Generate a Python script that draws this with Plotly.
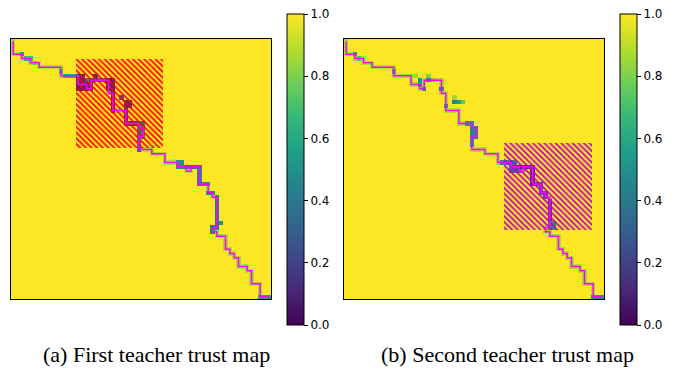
import numpy as np
import plotly.graph_objects as go

N = 60  # grid size (frames x frames)

# shared alignment path (col, row) vertices
PATH_COLS = [0, 0, 2, 2, 4, 4, 6, 6, 11, 11, 15, 15, 17, 17, 18, 18, 22, 22, 23, 23, 26, 26, 29, 29, 30, 30, 29, 29,
             32, 32, 35, 35, 38, 38, 40, 40, 41, 41, 43, 43, 45, 45, 46, 46, 47, 47, 46, 46, 47, 47, 49, 49, 50, 50,
             51, 51, 52, 52, 54, 54, 55, 55, 57, 57, 59]
PATH_ROWS = [0, 3, 3, 4, 4, 5, 5, 6, 6, 8, 8, 10, 10, 11, 11, 9, 9, 12, 12, 16, 16, 19, 19, 20, 20, 22, 22, 25,
             25, 26, 26, 28, 28, 29, 29, 30, 30, 29, 29, 33, 33, 35, 35, 36, 36, 43, 43, 44, 44, 45, 45, 48, 48, 49,
             49, 50, 50, 52, 52, 53, 53, 56, 56, 59, 59]

PATH_TRUST = 0.88  # default trust of cells along the path

# low-trust blocks: (col0, col1, row0, row1, value)
BLOCKS_A = [
    (2, 2, 3, 3, 0.55), (3, 4, 4, 4, 0.68), (5, 5, 5, 5, 0.75), (11, 11, 7, 7, 0.6), (12, 14, 8, 8, 0.6),
    (15, 16, 8, 11, 0.12), (17, 17, 9, 9, 0.5), (17, 18, 10, 11, 0.15), (19, 19, 8, 8, 0.15),
    (18, 19, 9, 9, 0.3), (20, 21, 9, 9, 0.38), (22, 22, 9, 11, 0.12), (23, 23, 9, 16, 0.1),
    (25, 25, 13, 13, 0.3), (26, 27, 14, 15, 0.15), (26, 26, 16, 19, 0.15), (27, 28, 19, 19, 0.15),
    (29, 30, 19, 22, 0.4), (30, 30, 21, 21, 0.5), (29, 29, 23, 25, 0.35),
    (38, 39, 28, 29, 0.5), (40, 42, 29, 29, 0.35), (43, 43, 29, 33, 0.45), (44, 45, 33, 33, 0.5),
    (45, 46, 35, 35, 0.5), (47, 47, 36, 43, 0.4), (48, 48, 42, 42, 0.5), (46, 46, 43, 44, 0.4),
    (57, 59, 59, 59, 0.55),
]
BLOCKS_B = [
    (2, 2, 3, 3, 0.55), (3, 3, 4, 4, 0.7), (11, 11, 7, 7, 0.6), (16, 16, 8, 8, 0.85),
    (17, 17, 9, 10, 0.5), (18, 18, 11, 11, 0.45), (19, 19, 8, 8, 0.8), (19, 19, 9, 9, 0.45),
    (20, 20, 9, 9, 0.8), (21, 22, 9, 9, 0.85), (22, 22, 11, 11, 0.45), (23, 23, 15, 15, 0.5),
    (25, 25, 13, 13, 0.85), (25, 25, 14, 14, 0.45), (26, 26, 14, 14, 0.55), (27, 27, 14, 14, 0.75),
    (28, 29, 19, 19, 0.5), (29, 30, 20, 22, 0.45), (29, 29, 23, 24, 0.5),
    (36, 39, 28, 28, 0.47), (38, 40, 29, 30, 0.35), (40, 42, 29, 29, 0.1), (43, 43, 29, 33, 0.15),
    (44, 45, 33, 33, 0.3), (45, 45, 34, 35, 0.35), (46, 46, 35, 36, 0.3), (47, 47, 37, 41, 0.18),
    (47, 48, 42, 43, 0.5), (57, 59, 59, 59, 0.5),
]

# hatched regions (x0, x1, y0, y1) in grid units
HATCH_A = (14.5, 34.6, 4.1, 24.7)
HATCH_B = (36.5, 56.7, 23.6, 43.6)

CB_TICKS = [0.0, 0.2, 0.4, 0.6, 0.8, 1.0]
CAPTIONS = ["(a) First teacher trust map", "(b) Second teacher trust map"]


def path_cells(cols, rows):
    cells = [(cols[0], rows[0])]
    for i in range(1, len(cols)):
        c0, r0, c1, r1 = cols[i - 1], rows[i - 1], cols[i], rows[i]
        dc = np.sign(c1 - c0)
        dr = np.sign(r1 - r0)
        c, r = c0, r0
        while (c, r) != (c1, r1):
            c += dc
            r += dr
            cells.append((c, r))
    return cells


def build(blocks):
    z = np.ones((N, N))
    for c, r in path_cells(PATH_COLS, PATH_ROWS):
        z[r, c] = PATH_TRUST
    for c0, c1, r0, r1, v in blocks:
        z[r0:r1 + 1, c0:c1 + 1] = v
    return z


W, H = 678, 369
fig = go.Figure()

panels = [
    dict(blocks=BLOCKS_A, hatch=HATCH_A, hcol="#ff0000", xa="x", ya="y", cbx=287),
    dict(blocks=BLOCKS_B, hatch=HATCH_B, hcol="#c000c0", xa="x2", ya="y2", cbx=620),
]

for p in panels:
    z = build(p["blocks"])
    fig.add_trace(go.Heatmap(
        z=z, x=np.arange(N), y=np.arange(N), colorscale="Viridis", zmin=0, zmax=1,
        xaxis=p["xa"], yaxis=p["ya"],
        colorbar=dict(
            x=p["cbx"] / W, xanchor="left", xpad=0, y=1 - (14 + 325) / 2 / H, yanchor="middle",
            len=(325 - 14) / H, lenmode="fraction", ypad=0, thickness=17, thicknessmode="pixels",
            outlinewidth=1, outlinecolor="black",
            tickvals=CB_TICKS, ticktext=[f"{t:.1f}" for t in CB_TICKS],
            ticks="outside", ticklen=4, tickcolor="black",
            tickfont=dict(family="DejaVu Sans", size=12, color="black"),
        ),
    ))
    x0, x1, y0, y1 = p["hatch"]
    fig.add_trace(go.Bar(
        x=[(x0 + x1) / 2], y=[y1 - y0], base=[y0], width=[x1 - x0],
        xaxis=p["xa"], yaxis=p["ya"], showlegend=False,
        marker=dict(color="rgba(0,0,0,0)", line=dict(width=0),
                    pattern=dict(shape="\\", fgcolor=p["hcol"], bgcolor="rgba(0,0,0,0)",
                                 size=4, solidity=0.45, fillmode="overlay", fgopacity=1)),
    ))
    fig.add_trace(go.Scatter(
        x=PATH_COLS, y=PATH_ROWS, mode="lines", xaxis=p["xa"], yaxis=p["ya"],
        line=dict(color="#ff00ff", width=1.5), showlegend=False,
    ))

ax_common = dict(showticklabels=False, ticks="", showgrid=False, zeroline=False,
                 showline=True, mirror=True, linecolor="black", linewidth=1)
ydom = [1 - 299 / H, 1 - 39 / H]
fig.update_layout(
    width=W, height=H, margin=dict(l=0, r=0, t=0, b=0),
    paper_bgcolor="white", plot_bgcolor="white", showlegend=False,
    xaxis=dict(domain=[11 / W, 271 / W], range=[-0.5, N - 0.5], **ax_common),
    yaxis=dict(domain=ydom, range=[N - 0.5, -0.5], **ax_common),
    xaxis2=dict(domain=[344 / W, 604 / W], range=[-0.5, N - 0.5], anchor="y2", **ax_common),
    yaxis2=dict(domain=ydom, range=[N - 0.5, -0.5], anchor="x2", **ax_common),
    bargap=0,
)

for cx, txt in zip([156, 507], CAPTIONS):
    fig.add_annotation(x=cx / W, y=1 - 354 / H, xref="paper", yref="paper", text=txt,
                       showarrow=False, xanchor="center", yanchor="middle",
                       font=dict(family="Liberation Serif", size=22, color="black"))

fig.write_html("out.html")
